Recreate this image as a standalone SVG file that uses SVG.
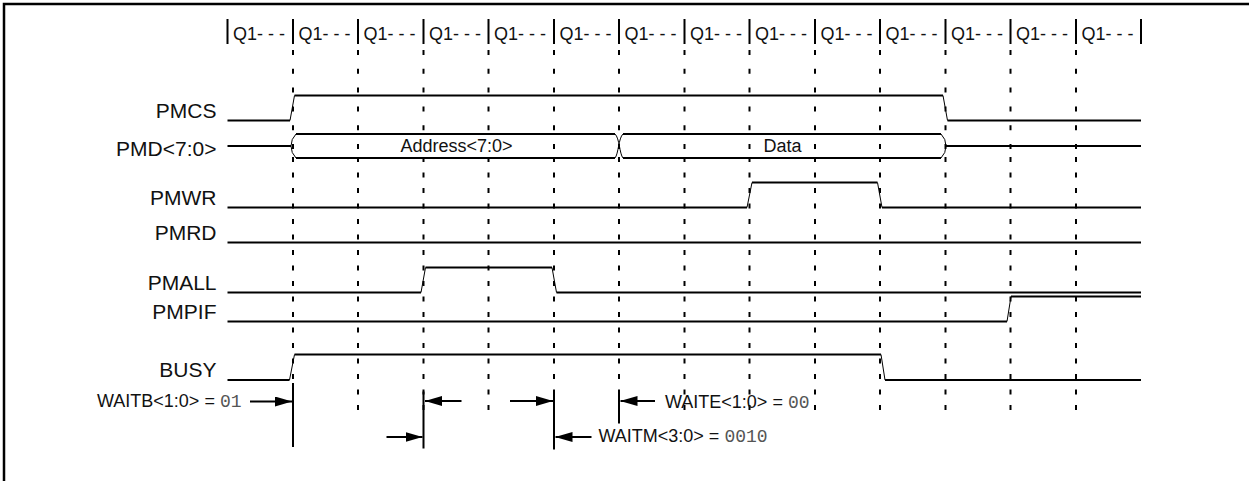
<svg xmlns="http://www.w3.org/2000/svg" width="1249" height="481" viewBox="0 0 1249 481">
<style>
.t{font-family:"Liberation Sans",Arial,sans-serif;fill:#111}
.lbl{font-size:21px;text-anchor:end}
.q{font-size:18px}
.m{font-family:"Liberation Mono","DejaVu Sans Mono",monospace;font-size:18px;fill:#555}
.sig{fill:none;stroke:#000;stroke-width:2}
.thin{fill:none;stroke:#000;stroke-width:1}
.tick{stroke:#000;stroke-width:2}
.dA{stroke:#000;stroke-width:2;stroke-dasharray:5 13.8}
.dB{stroke:#000;stroke-width:2;stroke-dasharray:5 10.5}
.ar{fill:#000}
</style>
<defs>
<marker id="ah" viewBox="0 0 17 10" refX="17" refY="5" markerWidth="17" markerHeight="10" markerUnits="userSpaceOnUse" orient="auto">
<path d="M0,0 L17,5 L0,10 Z" class="ar"/>
</marker>
</defs>
<rect x="4" y="4" width="1270" height="500" fill="none" stroke="#000" stroke-width="2.5"/>

<g id="header">
<path class="tick" d="M227.5,19V44M293,19V44M358,19V44M423.5,19V44M488.5,19V44M554,19V44M619,19V44M684.5,19V44M749.5,19V44M815,19V44M880,19V44M945.5,19V44M1010.5,19V44M1076,19V44M1141,19V44"/>
<g class="t q">
<text x="233" y="40">Q1- - -</text>
<text x="298.5" y="40">Q1- - -</text>
<text x="363.5" y="40">Q1- - -</text>
<text x="429" y="40">Q1- - -</text>
<text x="494" y="40">Q1- - -</text>
<text x="559.5" y="40">Q1- - -</text>
<text x="624.5" y="40">Q1- - -</text>
<text x="690" y="40">Q1- - -</text>
<text x="755" y="40">Q1- - -</text>
<text x="820.5" y="40">Q1- - -</text>
<text x="885.5" y="40">Q1- - -</text>
<text x="951" y="40">Q1- - -</text>
<text x="1016" y="40">Q1- - -</text>
<text x="1081.5" y="40">Q1- - -</text>
</g>
</g>

<g id="gridlines">
<path class="dA" d="M293,50V157M358,50V157M423.5,50V157M488.5,50V157M554,50V157M619,50V157M684.5,50V157M749.5,50V157M815,50V157M880,50V157M945.5,50V157M1010.5,50V157M1076,50V157"/>
<path class="dB" d="M293,157V410M358,157V410M423.5,157V410M488.5,157V410M554,157V410M619,157V410M684.5,157V410M749.5,157V410M815,157V410M880,157V410M945.5,157V410M1010.5,157V410M1076,157V410"/>
</g>

<g id="PMCS">
<text class="t lbl" x="216.5" y="117.5">PMCS</text>
<path class="sig" d="M227.5,120.5H290M294.5,95.5H943M947.5,120.5H1141"/>
<path class="thin" d="M290,120.5L294.5,95.5M943,95.5L947.5,120.5"/>
</g>

<g id="PMD">
<text class="t lbl" x="216.5" y="156">PMD&lt;7:0&gt;</text>
<rect x="398" y="136" width="118" height="20" fill="#fff"/>
<path class="sig" d="M227.5,146H291M296,134H615M296,158H615M623,134H941M623,158H941M946,146H1141"/>
<path class="thin" d="M296,134Q291,139 291,146Q291,153 296,158M615,134C619.5,138 619.5,154 623,158M623,134C618.5,138 618.5,154 615,158M941,134Q946,139 946,146Q946,153 941,158"/>
<text class="t q" x="456.6" y="151.5" text-anchor="middle">Address&lt;7:0&gt;</text>
<text class="t q" x="782.5" y="151.5" text-anchor="middle">Data</text>
</g>

<g id="PMWR">
<text class="t lbl" x="216.5" y="205">PMWR</text>
<path class="sig" d="M227.5,207.5H747M752,182.5H877.5M882,207.5H1141"/>
<path class="thin" d="M747,207.5L752,182.5M877.5,182.5L882,207.5"/>
</g>

<g id="PMRD">
<text class="t lbl" x="216.5" y="240">PMRD</text>
<path class="sig" d="M227.5,242.5H1141"/>
</g>

<g id="PMALL">
<text class="t lbl" x="216.5" y="290">PMALL</text>
<path class="sig" d="M227.5,292.5H421M425.5,267.5H552M556.5,292.5H1141"/>
<path class="thin" d="M421,292.5L425.5,267.5M552,267.5L556.5,292.5"/>
</g>

<g id="PMPIF">
<text class="t lbl" x="216.5" y="319">PMPIF</text>
<path class="sig" d="M227.5,321.5H1007M1011,296.5H1141"/>
<path class="thin" d="M1007,321.5L1011,296.5"/>
</g>

<g id="BUSY">
<text class="t lbl" x="216.5" y="377">BUSY</text>
<path class="sig" d="M227.5,380H289.5M294.5,354.5H881M885,380H1141"/>
<path class="thin" d="M289.5,380L294.5,354.5M881,354.5L885,380"/>
</g>

<g id="WAITB">
<text class="t q" x="97" y="406.5">WAITB&lt;1:0&gt; = <tspan class="m">01</tspan></text>
</g>
<g id="WAITE">
<text class="t q" x="665" y="407.5">WAITE&lt;1:0&gt; = <tspan class="m">00</tspan></text>
</g>
<g id="WAITM">
<text class="t q" x="598.5" y="441.5">WAITM&lt;3:0&gt; = <tspan class="m">0010</tspan></text>
</g>

<g id="connectors">
<path class="sig" d="M293,383V447M423.5,391.5V448.5M554,391.5V449.5M619,391.5V423.5"/>
<path class="sig" marker-end="url(#ah)" d="M250,401.5H292"/>
<path class="sig" marker-end="url(#ah)" d="M386.5,437H422.5"/>
<path class="sig" marker-end="url(#ah)" d="M461.5,401H425"/>
<path class="sig" marker-end="url(#ah)" d="M510,401H553"/>
<path class="sig" marker-end="url(#ah)" d="M591.5,437H555.5"/>
<path class="sig" marker-end="url(#ah)" d="M655,401H620.5"/>
</g>
</svg>
